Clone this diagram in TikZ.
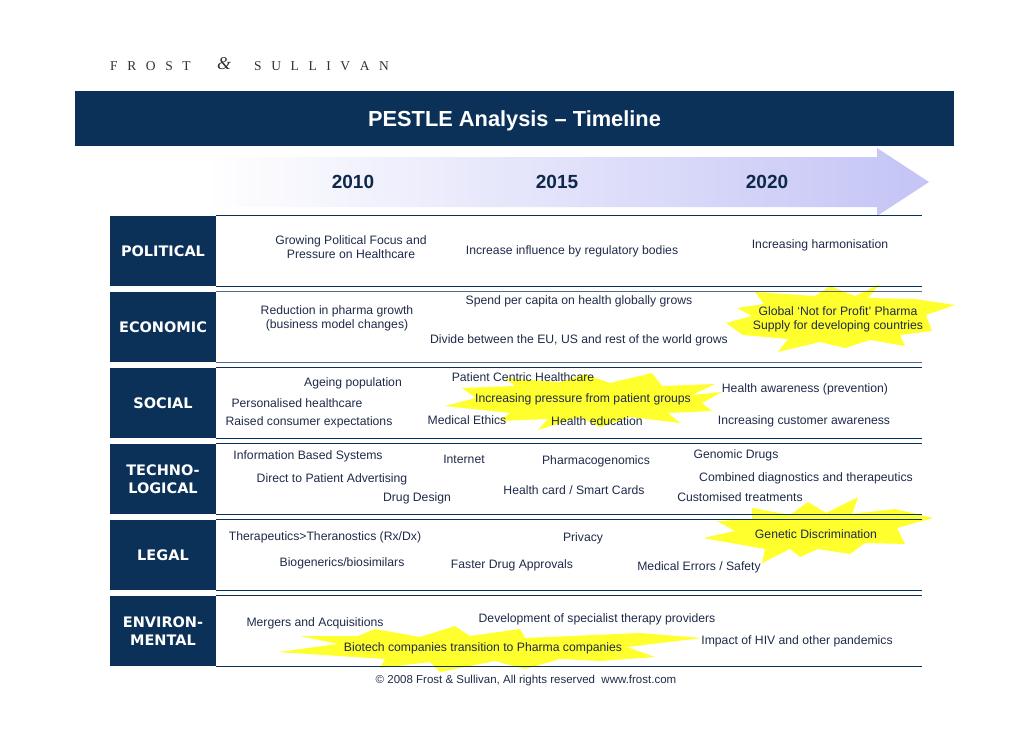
\documentclass[tikz,border=0pt]{standalone}
\usepackage{fontspec}
\setmainfont{Liberation Sans}
\newfontfamily\rowfont{DejaVu Sans}
\newfontfamily\logofont{Liberation Serif}
\usetikzlibrary{positioning}

\definecolor{fsnavy}{RGB}{11,49,89}
\definecolor{fssteel}{RGB}{84,105,135}
\definecolor{itemcol}{RGB}{30,42,72}
\definecolor{yearcol}{RGB}{14,40,75}
\definecolor{arrowlav}{RGB}{196,196,246}
\definecolor{burstyellow}{RGB}{255,255,45}
\definecolor{logocol}{RGB}{45,50,62}

\newcommand{\lsp}{\hspace{9.6pt}}

\begin{document}
\begin{tikzpicture}[x=1pt, y=-1pt,
  rowbox/.style={fill=fsnavy, text=white, minimum width=106pt, minimum height=70pt, align=center, inner sep=0pt,
    font=\rowfont\bfseries\fontsize{14.5}{17.5}\selectfont},
  item/.style={text=itemcol, align=center, inner sep=0pt, yshift=-1pt, font=\fontsize{12.2}{14.2}\selectfont},
  year/.style={text=yearcol, inner sep=0pt, font=\bfseries\fontsize{19}{21}\selectfont},
  logo/.style={anchor=west, text=logocol, inner sep=0pt, font=\logofont\fontsize{13.5}{14}\selectfont},
  rule/.style={line width=1.3pt},
  burst/.style={fill=burstyellow}]

  \useasboundingbox (0,0) rectangle (1030,728);

  % logo and title bar
  \node[logo] (frost) at (110,66) {F\lsp R\lsp O\lsp S\lsp T};
  \node[text=logocol, inner sep=0pt, font=\logofont\itshape\fontsize{18}{19}\selectfont] (amp) at (224,64) {\&};
  \node[logo] (sullivan) at (254,66) {S\lsp U\lsp L\lsp L\lsp I\lsp V\lsp A\lsp N};
  \node[fill=fsnavy, text=white, minimum width=879pt, minimum height=55pt, inner sep=0pt, text depth=0pt,
    font=\bfseries\fontsize{21.8}{24}\selectfont] (title) at (514.5,118.5) {PESTLE Analysis -- Timeline};

  % timeline arrow
  \shade[left color=white, right color=arrowlav] (205,157) -- (877,157) -- (877,148) -- (929,182)
    -- (877,216) -- (877,207) -- (205,207) -- cycle;
  \node[year] (y2010) at (353,182) {2010};
  \node[year] (y2015) at (557,182) {2015};
  \node[year] (y2020) at (767,182) {2020};

  % row labels
  \node[rowbox] (pol) at (163,251) {POLITICAL};
  \node[rowbox, below=5.6pt of pol] (eco) {ECONOMIC};
  \node[rowbox, below=5.6pt of eco] (soc) {SOCIAL};
  \node[rowbox, below=5.6pt of soc] (tec) {TECHNO-\\LOGICAL};
  \node[rowbox, below=5.6pt of tec] (leg) {LEGAL};
  \node[rowbox, below=5.6pt of leg] (env) {ENVIRON-\\MENTAL};

  % highlight bursts
  \fill[burst] (880,284) -- (868,298) -- (915,299) -- (955,305) -- (926,315) -- (932,331) -- (900,335)
    -- (905,346) -- (870,340) -- (845,348) -- (820,342) -- (778,352) -- (788,339) -- (743,335)
    -- (726,323) -- (752,316) -- (737,308) -- (764,304) -- (755,292) -- (815,296) -- (830,286)
    -- (855,296) -- cycle;
  \fill[burst] (652,373) -- (662,386) -- (715,384) -- (692,395) -- (722,392) -- (702,403) -- (712,411)
    -- (668,413) -- (680,423) -- (630,417) -- (600,427) -- (580,417) -- (538,430) -- (548,419)
    -- (500,421) -- (510,413) -- (445,406) -- (476,398) -- (462,388) -- (515,386) -- (505,378)
    -- (560,382) -- (585,374) -- (610,383) -- cycle;
  \fill[burst] (858,497) -- (852,514) -- (895,509) -- (933,518) -- (897,528) -- (905,544) -- (865,543)
    -- (850,554) -- (818,549) -- (800,557) -- (790,549) -- (762,563) -- (765,549) -- (703,538)
    -- (735,531) -- (717,521) -- (752,519) -- (752,508) -- (790,515) -- (808,502) -- (826,513) -- cycle;
  \fill[burst] (455,626) -- (470,636) -- (520,629) -- (525,638) -- (640,633) -- (702,638) -- (627,647)
    -- (655,657) -- (600,661) -- (560,659) -- (525,669) -- (495,661) -- (440,672) -- (430,662)
    -- (380,668) -- (385,659) -- (278,652) -- (338,644) -- (300,636) -- (358,636) -- (375,629)
    -- (420,637) -- cycle;

  % row rules
  \coordinate (rend) at (922,0);
  \foreach \r/\c in {pol/fsnavy, eco/fssteel, soc/fsnavy, tec/fsnavy, leg/fsnavy, env/fsnavy} {
    \draw[rule, draw=\c] (\r.north east) -- (\r.north east -| rend);
    \draw[rule, draw=\c] (\r.south east) -- (\r.south east -| rend);
  }

  % political
  \node[item] (pol1) at (351,246) {Growing Political Focus and\\Pressure on Healthcare};
  \node[item] (pol2) at (572,250) {Increase influence by regulatory bodies};
  \node[item] (pol3) at (820,244) {Increasing harmonisation};

  % economic
  \node[item] (eco1) at (579,300) {Spend per capita on health globally grows};
  \node[item] (eco2) at (337,317) {Reduction in pharma growth\\(business model changes)};
  \node[item] (eco3) at (838,318) {Global `Not for Profit' Pharma\\Supply for developing countries};
  \node[item] (eco4) at (579,339) {Divide between the EU, US and rest of the world grows};

  % social
  \node[item] (soc1) at (523,376) {Patient Centric Healthcare};
  \node[item] (soc2) at (353,382) {Ageing population};
  \node[item] (soc3) at (805,388) {Health awareness (prevention)};
  \node[item] (soc4) at (583,398) {Increasing pressure from patient groups};
  \node[item] (soc5) at (297,402) {Personalised healthcare};
  \node[item] (soc6) at (309,421) {Raised consumer expectations};
  \node[item] (soc7) at (467,419) {Medical Ethics};
  \node[item] (soc8) at (597,420) {Health education};
  \node[item] (soc9) at (804,420) {Increasing customer awareness};

  % technological
  \node[item] (tec1) at (308,455) {Information Based Systems};
  \node[item] (tec2) at (464,458) {Internet};
  \node[item] (tec3) at (596,460) {Pharmacogenomics};
  \node[item] (tec4) at (736,454) {Genomic Drugs};
  \node[item] (tec5) at (332,478) {Direct to Patient Advertising};
  \node[item] (tec6) at (806,477) {Combined diagnostics and therapeutics};
  \node[item] (tec7) at (574,489) {Health card / Smart Cards};
  \node[item] (tec8) at (740,496) {Customised treatments};
  \node[item] (tec9) at (417,497) {Drug Design};

  % legal
  \node[item] (leg1) at (325,536) {Therapeutics>Theranostics (Rx/Dx)};
  \node[item] (leg2) at (583,537) {Privacy};
  \node[item] (leg3) at (816,533) {Genetic Discrimination};
  \node[item] (leg4) at (342,562) {Biogenerics/biosimilars};
  \node[item] (leg5) at (512,564) {Faster Drug Approvals};
  \node[item] (leg6) at (699,566) {Medical Errors / Safety};

  % environmental
  \node[item] (env1) at (597,618) {Development of specialist therapy providers};
  \node[item] (env2) at (315,622) {Mergers and Acquisitions};
  \node[item] (env3) at (797,640) {Impact of HIV and other pandemics};
  \node[item] (env4) at (483,647) {Biotech companies transition to Pharma companies};

  \node[item, font=\fontsize{11.5}{13}\selectfont] (foot) at (526,680) {© 2008 Frost \& Sullivan, All rights reserved\ \ www.frost.com};

\end{tikzpicture}
\end{document}
